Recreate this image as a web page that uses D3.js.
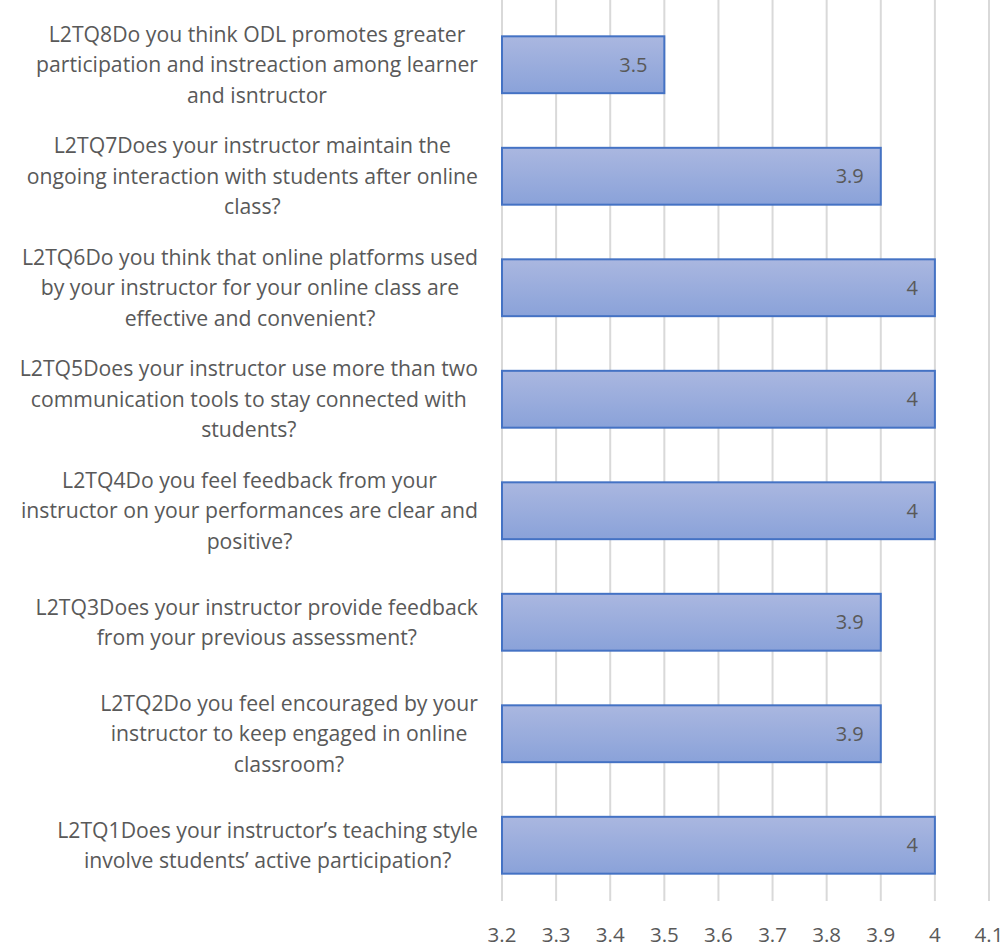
<!DOCTYPE html>
<html>
<head>
<meta charset="utf-8">
<script src="https://cdn.jsdelivr.net/npm/d3@7"></script>
<style>
  html, body { margin: 0; padding: 0; background: #ffffff; }
  svg { display: block; }
  text { font-family: "Open Sans", "Noto Sans", sans-serif; fill: #595959; }
</style>
</head>
<body>
<svg id="chart" width="1008" height="949"></svg>
<script>
// Survey items, top to bottom, each split into its wrapped lines
const categories = ["L2TQ8", "L2TQ7", "L2TQ6", "L2TQ5", "L2TQ4", "L2TQ3", "L2TQ2", "L2TQ1"];
const labelLines = [
  ["L2TQ8Do you think ODL promotes greater", "participation and instreaction among learner", "and isntructor"],
  ["L2TQ7Does your instructor maintain the", "ongoing interaction with students after online", "class?"],
  ["L2TQ6Do you think that online platforms used", "by your instructor for your online class are", "effective and convenient?"],
  ["L2TQ5Does your instructor use more than two", "communication tools to stay connected with", "students?"],
  ["L2TQ4Do you feel feedback from your", "instructor on your performances are clear and", "positive?"],
  ["L2TQ3Does your instructor provide feedback", "from your previous assessment?"],
  ["L2TQ2Do you feel encouraged by your", "instructor to keep engaged in online", "classroom?"],
  ["L2TQ1Does your instructor\u2019s teaching style", "involve students\u2019 active participation?"]
];
const values = [3.5, 3.9, 4, 4, 4, 3.9, 3.9, 4];
const xTicks = [3.2, 3.3, 3.4, 3.5, 3.6, 3.7, 3.8, 3.9, 4, 4.1];

const svg = d3.select("#chart");
const plot = { left: 502, right: 989, top: 9, bottom: 901 };
const labelFont = 21.2;

const x = d3.scaleLinear().domain([3.2, 4.1]).range([plot.left, plot.right]);
const y = d3.scaleBand().domain(categories).range([plot.top, plot.bottom]).paddingInner(0.49).paddingOuter(0.245);

// Bar gradient
const defs = svg.append("defs");
const grad = defs.append("linearGradient").attr("id", "barGrad")
  .attr("x1", 0).attr("y1", 0).attr("x2", 0).attr("y2", 1);
grad.append("stop").attr("offset", "0%").attr("stop-color", "#aab7e0");
grad.append("stop").attr("offset", "100%").attr("stop-color", "#8aa2d9");

// Vertical gridlines
svg.append("g")
  .selectAll("line").data(xTicks).join("line")
  .attr("x1", d => x(d)).attr("x2", d => x(d))
  .attr("y1", plot.top - 9).attr("y2", plot.bottom)
  .attr("stroke", "#d9d9d9").attr("stroke-width", 2);

// Tick labels
svg.append("g")
  .selectAll("text").data(xTicks).join("text")
  .attr("x", d => x(d)).attr("y", 942)
  .attr("text-anchor", "middle")
  .style("font-size", "20.5px")
  .text(d => d3.format("~g")(d));

// Bars
svg.append("g")
  .selectAll("rect").data(values).join("rect")
  .attr("x", x(3.2))
  .attr("y", (d, i) => y(categories[i]))
  .attr("width", d => x(d) - x(3.2))
  .attr("height", y.bandwidth())
  .attr("fill", "url(#barGrad)")
  .attr("stroke", "#4472c4").attr("stroke-width", 2);

// Value labels at the inside end of each bar
svg.append("g")
  .selectAll("text").data(values).join("text")
  .attr("x", d => x(d) - 17)
  .attr("y", (d, i) => y(categories[i]) + y.bandwidth() / 2)
  .attr("dy", "0.36em")
  .attr("text-anchor", "end")
  .style("font-size", "20px")
  .text(d => d3.format("~g")(d));

// Category labels: lines centred within their block, block right-aligned to the axis
const labelRight = 478;
const lineH = 30.5;
const labels = svg.append("g");
categories.forEach((c, i) => {
  const lines = labelLines[i];
  const g = labels.append("g");
  const texts = lines.map(l => g.append("text").style("font-size", labelFont + "px").text(l));
  const widths = texts.map(t => t.node().getComputedTextLength());
  const blockW = d3.max(widths);
  const cx = labelRight - blockW / 2;
  const cy = y(c) + y.bandwidth() / 2;
  texts.forEach((t, k) => {
    t.attr("x", cx).attr("text-anchor", "middle")
      .attr("y", cy + (k - (lines.length - 1) / 2) * lineH)
      .attr("dy", "0.36em");
  });
});
</script>
</body>
</html>
